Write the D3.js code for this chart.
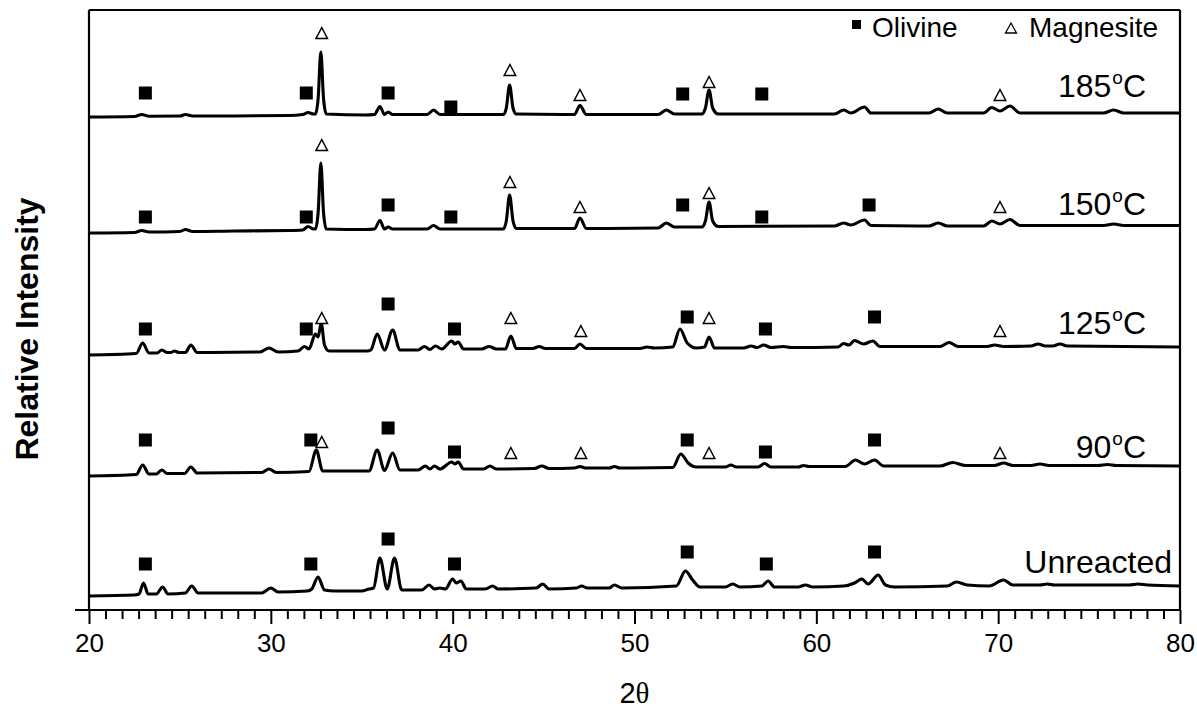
<!DOCTYPE html>
<html>
<head>
<meta charset="utf-8">
<script src="https://cdn.jsdelivr.net/npm/d3@7"></script>
<style>
  body { margin: 0; background: #fff; }
  text { fill: #000; }
</style>
</head>
<body>
<svg id="chart"></svg>
<script>
const width = 1197
const height = 713
const plotLeft = 89
const plotRight = 1180
const plotTop = 10
const plotBottom = 610
const sans = "Liberation Sans, Arial, sans-serif"

// x axis (2θ) ticks
const majorTicks = [20, 30, 40, 50, 60, 70, 80]
const minorPerMajor = 10

// samples, bottom to top
const sampleNames = ["Unreacted", "90", "125", "150", "185"]
const baselines = [14, 134, 255, 377, 493]
const labelLevels = [37, 152, 276, 395, 513]

// patterns: [2θ, intensity above own baseline]
const unreacted = [
  [20, 0], [22.5, 1], [22.75, 2], [23.0, 13], [23.25, 2], [23.7, 2], [24.05, 9], [24.35, 2],
  [25.3, 3], [25.65, 10], [26.0, 3], [29.5, 3], [30.0, 8], [30.4, 4], [32.0, 5], [32.25, 7],
  [32.6, 19], [32.95, 6], [33.5, 5], [35.0, 5], [35.4, 7], [35.65, 8], [36.0, 38], [36.4, 7],
  [36.8, 38], [37.2, 6], [38.3, 6], [38.7, 11], [39.0, 7], [39.3, 8], [39.6, 7], [40.0, 17],
  [40.2, 13], [40.45, 15], [40.75, 7], [41.8, 7], [42.2, 10], [42.5, 7], [44.6, 8], [44.95, 12],
  [45.3, 7], [46.8, 8], [47.1, 10], [47.4, 8], [48.6, 8], [48.9, 11], [49.3, 8], [52.3, 10],
  [52.8, 25], [53.2, 16], [53.6, 9], [55.0, 9], [55.4, 12], [55.8, 9], [57.0, 10], [57.35, 15],
  [57.7, 9], [59.0, 9], [59.4, 11], [59.8, 9], [61.5, 10], [62.1, 13], [62.5, 17], [62.85, 12],
  [63.4, 21], [63.8, 11], [64.3, 9], [67.2, 10], [67.7, 14], [68.3, 11], [69.5, 10], [70.3, 16],
  [70.8, 11], [72.3, 11], [72.7, 12], [73.1, 11], [77.2, 11], [77.7, 12], [78.2, 11], [80, 10]
]
const c90 = [
  [20, 0], [22.6, 1.5], [22.95, 11], [23.3, 2], [23.7, 2], [24.0, 6], [24.3, 2.5], [25.25, 2.5],
  [25.6, 9], [25.95, 3], [29.5, 3.5], [29.9, 7], [30.3, 3.5], [32.1, 4.5], [32.5, 26], [32.85, 5],
  [35.4, 5], [35.85, 26], [36.25, 5.5], [36.7, 23], [37.1, 6], [38.1, 6], [38.5, 10], [38.75, 7],
  [39.0, 10], [39.3, 7], [39.95, 14], [40.12, 12], [40.3, 14], [40.6, 7], [41.7, 7], [42.05, 10],
  [42.4, 7], [44.5, 7.5], [44.9, 10], [45.3, 7.5], [46.7, 8], [47.0, 9.5], [47.3, 8], [48.6, 8],
  [48.9, 9.5], [49.2, 8], [52.1, 8.5], [52.55, 22], [52.95, 13], [53.4, 9], [55.0, 9], [55.3, 11],
  [55.6, 9], [56.8, 9], [57.15, 12.5], [57.5, 9], [59.0, 9], [59.3, 10.5], [59.6, 9.5], [61.6, 9.5],
  [62.15, 16], [62.65, 12], [63.2, 16], [63.7, 10], [66.8, 10], [67.5, 13.5], [68.2, 10.5],
  [69.8, 10.5], [70.3, 13], [70.8, 10.5], [71.8, 10.5], [72.3, 12], [72.8, 10.5], [75.5, 10.5],
  [76.0, 11.5], [76.5, 10.5], [80, 10]
]
const c125 = [
  [20, 0], [22.6, 1.5], [22.95, 12], [23.3, 2], [23.75, 2], [24.0, 5], [24.3, 2.5], [24.5, 2.5],
  [24.7, 4], [24.95, 2.5], [25.3, 2.5], [25.6, 10], [25.95, 2.5], [29.4, 3], [29.9, 7], [30.4, 3],
  [31.5, 4], [31.85, 8.5], [32.1, 6], [32.45, 21], [32.6, 18], [32.77, 32], [32.95, 10], [33.2, 4],
  [35.3, 4], [35.5, 5], [35.85, 21], [36.25, 5], [36.7, 25], [37.1, 5], [38.1, 5], [38.45, 8.5],
  [38.75, 5.5], [39.05, 9], [39.4, 6], [39.95, 14], [40.12, 11], [40.3, 13], [40.6, 6], [41.6, 6],
  [42.0, 8.5], [42.4, 6], [42.9, 6], [43.2, 19], [43.5, 6.5], [44.4, 6.5], [44.75, 8.5], [45.1, 6.5],
  [46.7, 6.5], [47.0, 11], [47.35, 6.5], [50.3, 6.5], [50.7, 8], [51.1, 7], [52.1, 8], [52.5, 26],
  [52.9, 12], [53.4, 7], [53.85, 8], [54.1, 18], [54.4, 7], [56.0, 7], [56.4, 9], [56.75, 7.5],
  [57.1, 10], [57.5, 7.5], [58.2, 8.5], [58.6, 7.5], [61.2, 8], [61.5, 11.5], [61.8, 10], [62.1, 14.5],
  [62.6, 11], [63.1, 14], [63.5, 8.5], [66.8, 8.5], [67.3, 12.5], [67.8, 8.5], [69.4, 8.5], [69.8, 10],
  [70.3, 8.5], [71.8, 9], [72.2, 11], [72.6, 9], [73.0, 9], [73.4, 11], [73.8, 9], [80, 8]
]
const c150 = [
  [20, 0], [22.5, 0.5], [22.9, 2.5], [23.3, 1], [25.0, 1.5], [25.3, 3.5], [25.7, 1.5], [28, 2],
  [31, 2.5], [31.75, 3], [32.05, 6.5], [32.35, 4], [32.45, 4], [32.6, 20], [32.75, 70], [32.9, 20],
  [33.05, 4], [35.2, 3.5], [35.7, 4], [36.0, 12.5], [36.25, 4], [36.45, 6], [36.7, 4], [38.6, 4],
  [38.95, 7.5], [39.3, 4], [42.8, 4], [42.95, 12], [43.13, 38], [43.32, 12], [43.5, 4.5], [46.7, 4.5],
  [47.0, 15], [47.35, 4.5], [51.3, 5], [51.75, 10], [52.2, 6], [53.7, 6], [53.9, 12], [54.1, 31],
  [54.3, 12], [54.6, 6.5], [61.0, 7], [61.5, 10], [61.9, 8], [62.65, 13], [63.0, 7.5], [66.2, 7],
  [66.7, 10], [67.2, 7], [69.2, 7], [69.65, 12], [70.1, 9], [70.65, 13.5], [71.2, 7.5], [75.8, 7.5],
  [76.35, 9], [76.9, 7.5], [80, 7.5]
]
const c185 = [
  [20, 0], [22.5, 0.5], [22.9, 2.5], [23.3, 0.8], [25.0, 1], [25.3, 2.5], [25.7, 1], [28, 1],
  [31, 1.5], [31.75, 2.5], [32.05, 4.5], [32.35, 3], [32.45, 3], [32.6, 18], [32.75, 65], [32.9, 18],
  [33.05, 3], [35.2, 2], [35.7, 2.5], [36.0, 10.5], [36.25, 2.5], [36.45, 5], [36.7, 2.5], [38.6, 2.5],
  [38.95, 7], [39.3, 2.5], [42.8, 2.5], [42.95, 9], [43.13, 32], [43.32, 9], [43.5, 3], [46.7, 2.5],
  [47.0, 11.5], [47.35, 2.5], [51.3, 2.5], [51.75, 7], [52.2, 3], [53.7, 3], [53.9, 9], [54.1, 27],
  [54.3, 9], [54.6, 3], [61.0, 3], [61.5, 7], [61.9, 4], [62.65, 10], [63.0, 4], [66.2, 4],
  [66.7, 8], [67.2, 4], [69.2, 4], [69.65, 9.5], [70.1, 6], [70.65, 11], [71.2, 4], [75.8, 4],
  [76.35, 7], [76.9, 4], [80, 4]
]
const patterns = [unreacted, c90, c125, c150, c185]

// phase markers: [2θ, level]
const olivineMarks = [
  [23.1, 46], [32.2, 46], [36.45, 71], [40.1, 46], [52.9, 58], [57.25, 46], [63.2, 58],
  [23.1, 170], [32.2, 170], [36.45, 182], [40.1, 158], [52.9, 170], [57.2, 158], [63.2, 170],
  [23.1, 281], [31.95, 281], [36.45, 306], [40.1, 281], [52.9, 293], [57.2, 281], [63.2, 293],
  [23.1, 393], [31.95, 393], [36.45, 405], [39.9, 393], [52.65, 405], [57.0, 393], [62.9, 405],
  [23.1, 517], [31.95, 517], [36.45, 517], [39.9, 503], [52.65, 516], [57.0, 516]
]
const magnesiteMarks = [
  [32.8, 168], [43.2, 157], [47.05, 157], [54.1, 157], [70.1, 157],
  [32.8, 292], [43.2, 292], [47.05, 279], [54.1, 292], [70.1, 279],
  [32.8, 465], [43.15, 428], [47.0, 403], [54.1, 417], [70.1, 403],
  [32.8, 577], [43.15, 540], [47.0, 515], [54.1, 528], [70.1, 515]
]

const svg = d3.select("#chart").attr("width", width).attr("height", height)
svg.append("rect").attr("width", width).attr("height", height).attr("fill", "#fff")

const x = d3.scaleLinear().domain([20, 80]).range([plotLeft, plotRight])
const y = d3.scaleLinear().domain([0, 600]).range([plotBottom, plotTop])

// minor ticks: 10 between each pair of majors
const minorTicks = []
for (let i = 0; i < majorTicks.length - 1; i++) {
  const step = (majorTicks[i + 1] - majorTicks[i]) / (minorPerMajor + 1)
  for (let k = 1; k <= minorPerMajor; k++) minorTicks.push(majorTicks[i] + k * step)
}

const gx = svg.append("g").attr("transform", `translate(0, ${plotBottom})`)
gx.call(d3.axisBottom(x).tickValues(minorTicks).tickSize(9).tickFormat(""))
gx.append("g").call(d3.axisBottom(x).tickValues(majorTicks).tickSize(14).tickPadding(10))
gx.selectAll(".domain").remove()
gx.selectAll("line").attr("stroke", "#000").attr("stroke-width", 2)
gx.selectAll("text").style("font-size", "26px").style("font-family", sans)

// frame
const frame = svg.append("g").attr("stroke", "#000").attr("stroke-width", 2.2).attr("fill", "none")
frame.append("line").attr("x1", plotLeft - 14).attr("x2", plotRight).attr("y1", plotBottom).attr("y2", plotBottom)
frame.append("line").attr("x1", plotLeft).attr("x2", plotLeft).attr("y1", plotTop).attr("y2", plotBottom)
frame.append("line").attr("x1", plotLeft).attr("x2", plotRight).attr("y1", plotTop).attr("y2", plotTop)
frame.append("line").attr("x1", plotRight).attr("x2", plotRight).attr("y1", plotTop).attr("y2", plotBottom)

// patterns
const line = d3.line().curve(d3.curveMonotoneX)
patterns.forEach((pts, i) => {
  svg.append("path")
    .attr("d", line.x((d) => x(d[0])).y((d) => y(d[1] + baselines[i]))(pts))
    .attr("fill", "none")
    .attr("stroke", "#000")
    .attr("stroke-width", 3.1)
    .attr("stroke-linejoin", "round")
})

// markers
const sq = 13
svg.append("g").selectAll("rect")
  .data(olivineMarks)
  .join("rect")
  .attr("x", (d) => x(d[0]) - sq / 2)
  .attr("y", (d) => y(d[1]) - sq / 2)
  .attr("width", sq)
  .attr("height", sq)
  .attr("fill", "#000")

const tri = (w, h) => `M0,${-h / 2}L${w / 2},${h / 2}L${-w / 2},${h / 2}Z`
svg.append("g").selectAll("path")
  .data(magnesiteMarks)
  .join("path")
  .attr("transform", (d) => `translate(${x(d[0])}, ${y(d[1])})`)
  .attr("d", tri(11.5, 11))
  .attr("fill", "#fff")
  .attr("stroke", "#000")
  .attr("stroke-width", 1.5)

// sample labels
sampleNames.forEach((name, i) => {
  const t = svg.append("text")
    .attr("y", y(labelLevels[i]))
    .attr("text-anchor", "end")
    .style("font-family", sans)
    .style("font-size", "32px")
  if (name === "Unreacted") {
    t.attr("x", 1172).text(name)
  } else {
    t.attr("x", 1146)
    t.append("tspan").text(name)
    t.append("tspan").style("font-size", "19px").attr("dy", -13).attr("dx", 1).text("o")
    t.append("tspan").attr("dy", 13).text("C")
  }
})

// legend
svg.append("rect").attr("x", 852).attr("y", 20).attr("width", 9).attr("height", 9).attr("fill", "#000")
svg.append("text").attr("x", 872).attr("y", 37).style("font-family", sans).style("font-size", "28px").text("Olivine")
svg.append("path").attr("transform", "translate(1011, 28)").attr("d", tri(11, 10))
  .attr("fill", "#fff").attr("stroke", "#000").attr("stroke-width", 1.3)
svg.append("text").attr("x", 1029).attr("y", 37).style("font-family", sans).style("font-size", "28px").text("Magnesite")

// axis titles
const xt = svg.append("text")
  .attr("x", (plotLeft + plotRight) / 2)
  .attr("y", 703)
  .attr("text-anchor", "middle")
  .style("font-family", sans)
  .style("font-size", "29px")
xt.append("tspan").text("2")
xt.append("tspan").style("font-family", "Liberation Serif, DejaVu Serif, serif").text("θ")

svg.append("text")
  .attr("transform", "translate(38, 329) rotate(-90)")
  .attr("text-anchor", "middle")
  .style("font-family", sans)
  .style("font-size", "32px")
  .style("font-weight", "bold")
  .text("Relative Intensity")
</script>
</body>
</html>
